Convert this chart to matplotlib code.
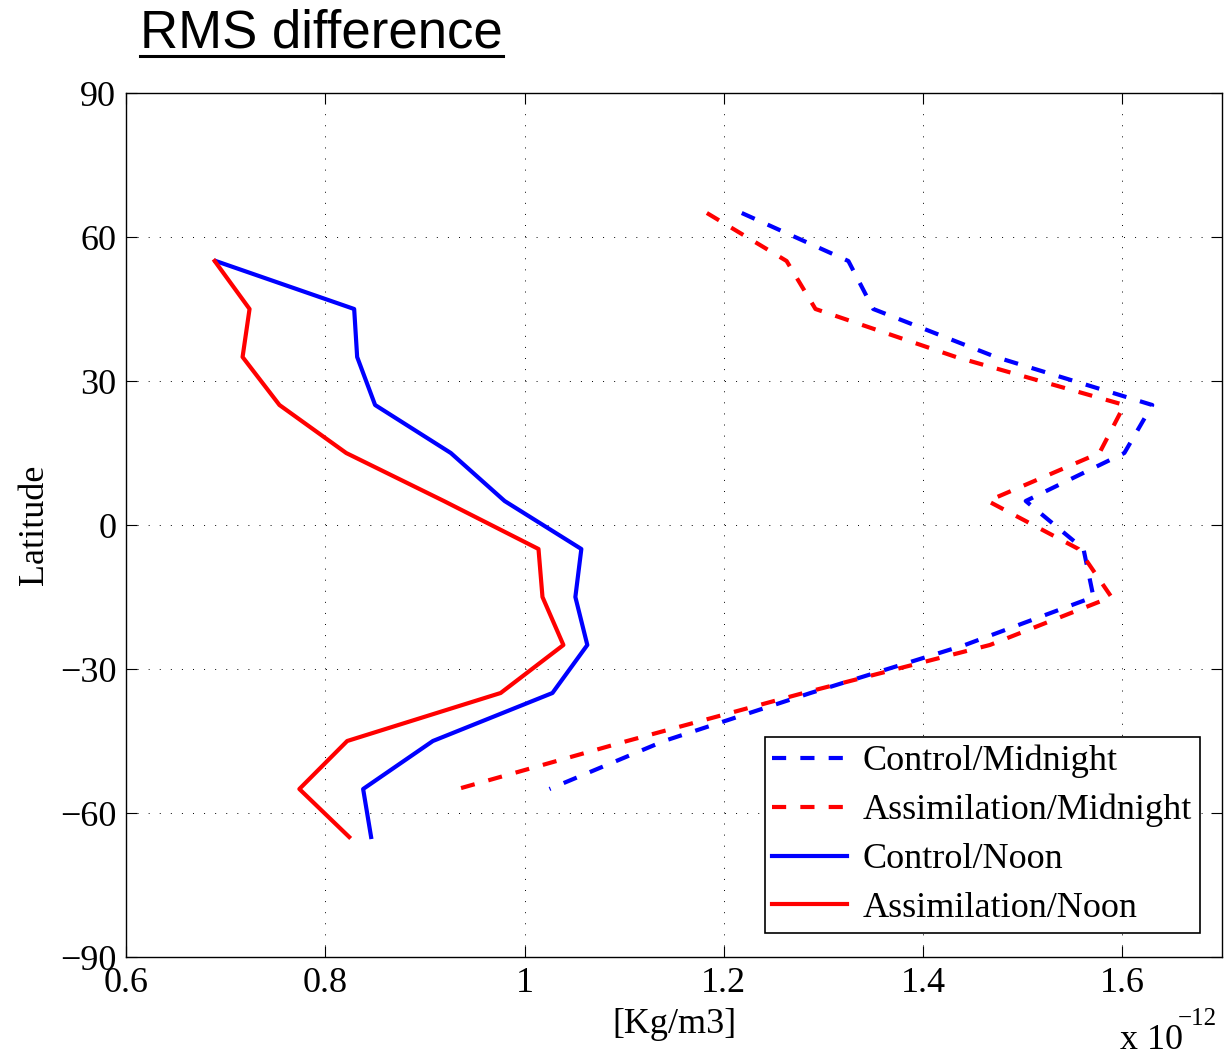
import matplotlib
matplotlib.use("Agg")
import matplotlib.pyplot as plt
from matplotlib.lines import Line2D

# ---- data (values in units of 1e-12 Kg/m3) ----
lat_mid = [65, 55, 45, 35, 25, 15, 5, -5, -15, -25, -35, -45, -55]
control_midnight = [1.218, 1.325, 1.350, 1.473, 1.630, 1.602, 1.503, 1.561, 1.571, 1.442, 1.287, 1.140, 1.025]
assim_midnight = [1.183, 1.263, 1.292, 1.433, 1.602, 1.577, 1.465, 1.556, 1.589, 1.467, 1.280, 1.103, 0.933]

lat_noon = [55, 45, 35, 25, 15, 5, -5, -15, -25, -35, -45, -55, -65]
control_noon = [0.690, 0.829, 0.832, 0.850, 0.926, 0.980, 1.057, 1.051, 1.063, 1.028, 0.908, 0.838, 0.846]
assim_noon = [0.689, 0.724, 0.717, 0.754, 0.821, 0.919, 1.014, 1.018, 1.039, 0.976, 0.822, 0.774, 0.824]

labels = ["Control/Midnight", "Assimilation/Midnight", "Control/Noon", "Assimilation/Noon"]
xticks = [0.6, 0.8, 1.0, 1.2, 1.4, 1.6]
xticklabels = ["0.6", "0.8", "1", "1.2", "1.4", "1.6"]
yticks = [-90, -60, -30, 0, 30, 60, 90]

serif = ["Liberation Serif", "DejaVu Serif"]
plt.rcParams["font.family"] = serif
plt.rcParams["axes.unicode_minus"] = True

W, H = 1225, 1055
fig = plt.figure(figsize=(W / 100, H / 100), dpi=100)
ax = fig.add_axes([126 / W, 1 - 957 / H, (1222 - 126) / W, (957 - 93) / H])

lw = 3.0
ax.plot(control_midnight, lat_mid, color=(0, 0, 1), lw=lw, dashes=(3.4, 3.4), label=labels[0])
ax.plot(assim_midnight, lat_mid, color=(1, 0, 0), lw=lw, dashes=(3.4, 3.4), label=labels[1])
ax.plot(control_noon, lat_noon, color=(0, 0, 1), lw=lw, label=labels[2])
ax.plot(assim_noon, lat_noon, color=(1, 0, 0), lw=lw, label=labels[3])

ax.set_xlim(0.6, 1.7)
ax.set_ylim(-90, 90)
ax.set_xticks(xticks)
ax.set_xticklabels(xticklabels)
ax.set_yticks(yticks)
ax.tick_params(direction="in", length=8, width=0.8, top=True, right=True,
               labelsize=26, pad=7)
for s in ax.spines.values():
    s.set_linewidth(1.0)

ax.grid(True, color="black", linewidth=0.7, linestyle=(0, (1, 10.4)))
ax.set_axisbelow(True)

ax.set_xlabel("[Kg/m3]", fontsize=26, labelpad=6)
ax.set_ylabel("Latitude", fontsize=26, labelpad=6)

leg = ax.legend(loc="lower right", bbox_to_anchor=(0.980, 0.0278), borderaxespad=0,
                fontsize=26, frameon=True, fancybox=False, framealpha=1,
                edgecolor="black", handlelength=2.05, handletextpad=0.45,
                labelspacing=0.43, borderpad=0.22)
leg.get_frame().set_linewidth(1.2)

# exponent label
fig.text(1120 / W, 1 - 1049 / H, "x 10", fontsize=26, va="baseline", ha="left")
fig.text(1178 / W, 1 - 1025 / H, "\u221212", fontsize=18, va="baseline", ha="left")

# underlined title
t = fig.text(140 / W, 1 - 47 / H, "RMS difference", fontsize=38,
             family=["Liberation Sans", "DejaVu Sans"], va="baseline", ha="left")
fig.canvas.draw()
bb = t.get_window_extent()
uy = 1 - 56 / H
fig.add_artist(Line2D([bb.x0 / W, bb.x1 / W], [uy, uy], color="black", lw=2.2,
                      transform=fig.transFigure))

fig.savefig("out.png", dpi=100)
